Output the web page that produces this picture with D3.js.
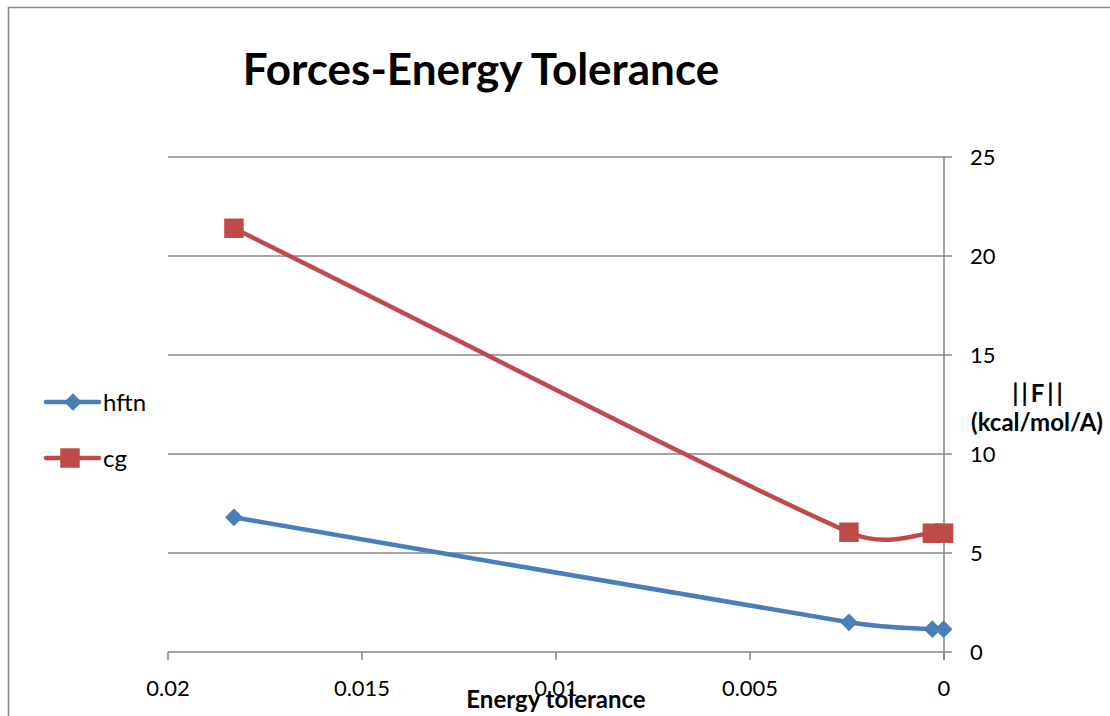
<!DOCTYPE html>
<html>
<head>
<meta charset="utf-8">
<script src="https://cdn.jsdelivr.net/npm/d3@7"></script>
<style>
  html, body { margin: 0; padding: 0; background: #fff; }
  svg { display: block; font-family: Lato, "Open Sans", sans-serif; }
</style>
</head>
<body>
<svg id="chart" width="1110" height="716"></svg>
<script>
// Energy tolerance settings (x) and resulting force norms ||F|| (y)
const tolerances = [0.0183, 0.00245, 0.0003, 0.00001];
const hftnForces = [6.8, 1.5, 1.15, 1.15];
const cgForces   = [21.4, 6.05, 6.0, 6.0];
const seriesNames = ["hftn", "cg"];
const xTicks = [0.02, 0.015, 0.01, 0.005, 0];
const yTicks = [0, 5, 10, 15, 20, 25];

const svg = d3.select("#chart");
const blue = "#4A7EBB", red = "#BE4B48", gridColor = "#878787";

// chart frame
svg.append("path")
  .attr("d", "M8.5,716 V7.5 H1110")
  .attr("fill", "none").attr("stroke", "#8a8a8a").attr("stroke-width", 1.6);

// x runs from 0.02 on the left to 0 on the right; y axis sits at x = 0
const x = d3.scaleLinear().domain([0.02, 0]).range([168, 944]);
const y = d3.scaleLinear().domain([0, 25]).range([652, 157]);

// horizontal gridlines + y axis ticks
const g = svg.append("g");
g.selectAll("line.grid").data(yTicks).join("line")
  .attr("x1", x(0.02)).attr("x2", x(0) + 8)
  .attr("y1", d => y(d)).attr("y2", d => y(d))
  .attr("stroke", gridColor).attr("stroke-width", 1.5);

// y axis line (right side, at x=0)
g.append("line")
  .attr("x1", x(0)).attr("x2", x(0))
  .attr("y1", y(25)).attr("y2", y(0) + 8)
  .attr("stroke", gridColor).attr("stroke-width", 1.5);

// x axis ticks
g.selectAll("line.xt").data(xTicks).join("line")
  .attr("x1", d => x(d)).attr("x2", d => x(d))
  .attr("y1", y(0)).attr("y2", y(0) + 8)
  .attr("stroke", gridColor).attr("stroke-width", 1.5);

// tick labels
g.selectAll("text.yl").data(yTicks).join("text")
  .attr("x", x(0) + 26).attr("y", d => y(d))
  .attr("dy", "0.36em")
  .attr("font-size", 22).attr("fill", "#000")
  .text(d => d);

g.selectAll("text.xl").data(xTicks).join("text")
  .attr("x", d => x(d)).attr("y", y(0) + 36)
  .attr("dy", "0.36em")
  .attr("text-anchor", "middle")
  .attr("font-size", 22).attr("fill", "#000")
  .text(d => d);

// axis titles
svg.append("text")
  .attr("x", 556).attr("y", 708)
  .attr("text-anchor", "middle")
  .attr("font-size", 24).attr("font-weight", "bold")
  .text("Energy tolerance");

const yTitle = svg.append("text")
  .attr("text-anchor", "middle")
  .attr("font-size", 24).attr("font-weight", "bold");
yTitle.append("tspan").attr("x", 1039).attr("y", 402)
  .attr("letter-spacing", 3).text("||F||");
yTitle.append("tspan").attr("x", 1037).attr("y", 431).text("(kcal/mol/A)");

// chart title
svg.append("text")
  .attr("x", 481).attr("y", 85)
  .attr("text-anchor", "middle")
  .attr("font-size", 44).attr("font-weight", "bold")
  .text("Forces-Energy Tolerance");

// smoothed line: cubic Bezier through the points, tangent = (next - prev) / 6,
// limited to half the segment length so short segments do not overshoot
function smoothPath(pts) {
  const p = d3.path();
  const n = pts.length;
  const tangent = i => {
    const a = pts[Math.max(0, i - 1)], b = pts[Math.min(n - 1, i + 1)];
    const k = (i === 0 || i === n - 1) ? 1 / 3 : 1 / 6;
    return [(b[0] - a[0]) * k, (b[1] - a[1]) * k];
  };
  const clamp = (t, maxLen) => {
    const len = Math.hypot(t[0], t[1]);
    return len > maxLen ? [t[0] * maxLen / len, t[1] * maxLen / len] : t;
  };
  p.moveTo(pts[0][0], pts[0][1]);
  for (let i = 0; i < n - 1; i++) {
    const a = pts[i], b = pts[i + 1];
    const d = Math.hypot(b[0] - a[0], b[1] - a[1]);
    const t0 = clamp(tangent(i), d * 0.5), t1 = clamp(tangent(i + 1), d * 0.5);
    p.bezierCurveTo(a[0] + t0[0], a[1] + t0[1], b[0] - t1[0], b[1] - t1[1], b[0], b[1]);
  }
  return p.toString();
}

const series = [
  { name: seriesNames[0], values: hftnForces, color: blue, marker: "diamond" },
  { name: seriesNames[1], values: cgForces, color: red, marker: "square" }
];

series.forEach(s => {
  const pts = tolerances.map((t, i) => [x(t), y(s.values[i])]);
  svg.append("path")
    .attr("d", smoothPath(pts))
    .attr("fill", "none").attr("stroke", s.color)
    .attr("stroke-width", 4.5).attr("stroke-linecap", "round");
});

// markers
const diamond = d3.symbol().type(d3.symbolDiamond2).size(200);
const square = d3.symbol().type(d3.symbolSquare).size(380);
series.forEach(s => {
  svg.selectAll(null).data(tolerances.map((t, i) => [t, s.values[i]])).join("path")
    .attr("transform", d => `translate(${x(d[0])},${y(d[1])})`)
    .attr("d", s.marker === "square" ? square() : diamond())
    .attr("fill", s.color);
});

// legend
const legend = svg.append("g");
series.forEach((s, i) => {
  const ly = 402 + i * 56;
  legend.append("line")
    .attr("x1", 46).attr("x2", 99).attr("y1", ly).attr("y2", ly)
    .attr("stroke", s.color).attr("stroke-width", 4.5).attr("stroke-linecap", "round");
  legend.append("path")
    .attr("transform", `translate(${i === 0 ? 73 : 70},${ly})`)
    .attr("d", s.marker === "square" ? square() : diamond())
    .attr("fill", s.color);
  legend.append("text")
    .attr("x", 103).attr("y", ly).attr("dy", "0.36em")
    .attr("font-size", 24).text(s.name);
});
</script>
</body>
</html>
